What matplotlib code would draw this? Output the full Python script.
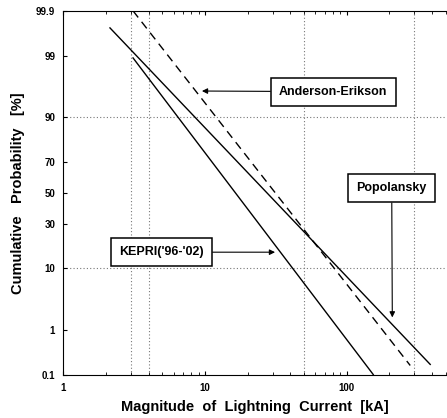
import numpy as np
import matplotlib
matplotlib.use('Agg')
import matplotlib.pyplot as plt
from statistics import NormalDist

# %% data (current in kA, probability in %)

popolansky_I = [2.13, 389.0]
popolansky_P = [99.745, 0.176]

kepri_I = [3.1, 154.0]
kepri_P = [98.9, 0.1]

anderson_I = [3.1, 281.0]
anderson_P = [99.9, 0.166]

y_ticks = [0.1, 1, 10, 30, 50, 70, 90, 99, 99.9]
y_labels = ['0.1', '1', '10', '30', '50', '70', '90', '99', '99.9']
x_ticks = [1, 10, 100]
x_labels = ['1', '10', '100']

grid_x = [3, 4, 50, 300]
grid_y = [10, 90]

# %% normal probability scale

nd = NormalDist()
_ppf = np.vectorize(nd.inv_cdf, otypes=[float])
_cdf = np.vectorize(nd.cdf, otypes=[float])

def fwd(p):
    p = np.clip(np.asarray(p, dtype=float) / 100.0, 1e-9, 1 - 1e-9)
    return _ppf(p)

def inv(z):
    return _cdf(np.asarray(z, dtype=float)) * 100.0

plt.rcParams['font.family'] = ['Liberation Sans', 'DejaVu Sans']
plt.rcParams['font.weight'] = 'bold'

fig = plt.figure(figsize=(4.47, 4.18), dpi=100)
ax = fig.add_axes([0.142, 0.104, 0.855, 0.870])

ax.set_xscale('log')
ax.set_yscale('function', functions=(fwd, inv))
ax.set_xlim(1, 500)
ax.set_ylim(0.1, 99.9)

for g in grid_x:
    ax.axvline(g, color='#777777', lw=0.8, ls=(0, (1, 2)), zorder=1)
for g in grid_y:
    ax.axhline(g, color='#777777', lw=0.8, ls=(0, (1, 2)), zorder=1)

ax.plot(popolansky_I, popolansky_P, color='black', lw=1.0, zorder=3)
ax.plot(kepri_I, kepri_P, color='black', lw=1.0, zorder=3)
ax.plot(anderson_I, anderson_P, color='black', lw=1.0, ls=(0, (6, 4)), zorder=3)

box = dict(boxstyle='square,pad=0.65', fc='white', ec='black', lw=1.1)
arr = dict(arrowstyle='-|>', color='black', lw=0.8, mutation_scale=8, shrinkA=0, shrinkB=0)

ax.annotate('Anderson-Erikson', xy=(9.5, 95.8), xytext=(80.3, 95.7),
            ha='center', va='center', fontsize=9, fontweight='bold',
            bbox=box, arrowprops=arr, zorder=5)
ax.annotate("KEPRI('96-'02)", xy=(31.2, 15.6), xytext=(4.93, 15.6),
            ha='center', va='center', fontsize=9, fontweight='bold',
            bbox=box, arrowprops=arr, zorder=5)
ax.annotate('Popolansky', xy=(210, 1.7), xytext=(208, 53),
            ha='center', va='center', fontsize=9, fontweight='bold',
            bbox=box, arrowprops=arr, zorder=5)

ax.set_yticks(y_ticks)
ax.set_yticklabels(y_labels)
ax.set_xticks(x_ticks)
ax.set_xticklabels(x_labels)
ax.tick_params(axis='both', which='both', direction='in', labelsize=7, top=True)
ax.tick_params(axis='both', which='major', length=3, pad=6)
ax.tick_params(axis='x', which='minor', length=2)
ax.yaxis.set_minor_locator(matplotlib.ticker.NullLocator())
ax.spines['right'].set_visible(False)

ax.set_xlabel('Magnitude  of  Lightning  Current  [kA]', fontsize=10.5, fontweight='bold', labelpad=5)
ax.set_ylabel('Cumulative   Probability   [%]', fontsize=10.5, fontweight='bold', labelpad=8)

plt.savefig('out.png', dpi=100)
plt.close()
